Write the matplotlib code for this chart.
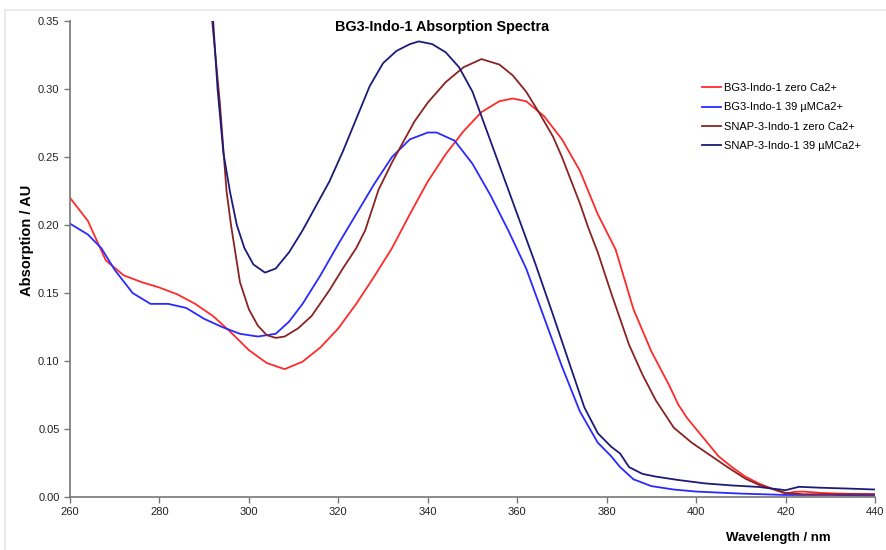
import matplotlib
matplotlib.use('Agg')
import matplotlib.pyplot as plt
from matplotlib.patches import Rectangle

# BG3-Indo-1 zero Ca2+
wl_bg3_zero = [260, 264, 268, 272, 276, 280, 284, 288, 292, 296, 300, 304, 308, 312, 316,
               320, 324, 328, 332, 336, 340, 344, 348, 352, 356, 359, 362, 366, 370, 374,
               378, 382, 386, 390, 394, 396, 398, 400, 402, 405, 408, 411, 414, 417, 420,
               422, 424, 428, 432, 436, 440]
ab_bg3_zero = [0.220, 0.203, 0.174, 0.163, 0.158, 0.154, 0.149, 0.142, 0.133, 0.121, 0.108,
               0.0985, 0.094, 0.0995, 0.110, 0.124, 0.142, 0.162, 0.183, 0.208, 0.232, 0.252,
               0.269, 0.283, 0.291, 0.293, 0.291, 0.280, 0.263, 0.240, 0.208, 0.182, 0.138,
               0.107, 0.082, 0.068, 0.058, 0.050, 0.042, 0.030, 0.022, 0.015, 0.010, 0.006,
               0.0025, 0.0038, 0.004, 0.003, 0.0025, 0.0022, 0.002]

# BG3-Indo-1 39 uM Ca2+
wl_bg3_ca = [260, 264, 267, 270, 274, 278, 282, 286, 290, 294, 298, 302, 306, 309, 312, 316,
             320, 324, 328, 332, 336, 340, 342, 346, 350, 354, 358, 362, 366, 370, 374, 378,
             381, 383, 386, 390, 395, 400, 410, 420, 430, 440]
ab_bg3_ca = [0.201, 0.193, 0.183, 0.167, 0.150, 0.142, 0.142, 0.139, 0.131, 0.125, 0.120,
             0.118, 0.120, 0.129, 0.142, 0.163, 0.186, 0.208, 0.230, 0.250, 0.263, 0.268,
             0.268, 0.262, 0.245, 0.222, 0.196, 0.168, 0.132, 0.096, 0.063, 0.040, 0.030,
             0.022, 0.013, 0.008, 0.0055, 0.004, 0.0025, 0.0015, 0.0015, 0.001]

# SNAP-3-Indo-1 zero Ca2+
wl_snap_zero = [291.8, 293.5, 295, 296, 298, 300, 302, 304, 306, 308, 311, 314, 318, 321, 324,
                326, 329, 332, 334, 337, 340, 344, 348, 352, 356, 359, 362, 365, 368, 370,
                374, 376, 378, 381, 385, 388, 391, 395, 399, 403, 407, 411, 414, 417, 420,
                424, 430, 440]
ab_snap_zero = [0.350, 0.290, 0.225, 0.200, 0.158, 0.138, 0.126, 0.119, 0.117, 0.118, 0.124,
                0.133, 0.152, 0.168, 0.183, 0.196, 0.226, 0.246, 0.258, 0.276, 0.290, 0.305,
                0.316, 0.322, 0.318, 0.310, 0.298, 0.282, 0.265, 0.250, 0.216, 0.197, 0.180,
                0.150, 0.112, 0.090, 0.071, 0.051, 0.040, 0.031, 0.022, 0.0135, 0.009, 0.006,
                0.003, 0.002, 0.002, 0.002]

# SNAP-3-Indo-1 39 uM Ca2+
wl_snap_ca = [292.0, 293.0, 294.3, 295.8, 297.3, 299, 301, 303.6, 306, 309, 312, 315, 318, 321,
              324, 327, 330, 333, 336, 338, 341, 344, 347, 350, 352, 356, 360, 364, 368, 372,
              375, 378, 381, 383, 385, 388, 391, 396, 402, 408, 414, 420, 423, 428, 434, 440]
ab_snap_ca = [0.350, 0.300, 0.253, 0.224, 0.200, 0.183, 0.171, 0.165, 0.168, 0.180, 0.196,
              0.214, 0.232, 0.254, 0.278, 0.302, 0.319, 0.328, 0.333, 0.335, 0.333, 0.327,
              0.316, 0.298, 0.280, 0.244, 0.208, 0.172, 0.134, 0.095, 0.066, 0.047, 0.037,
              0.032, 0.022, 0.017, 0.015, 0.0125, 0.010, 0.0085, 0.0074, 0.005, 0.0075,
              0.0068, 0.0062, 0.0055]

labels = ['BG3-Indo-1 zero Ca2+', 'BG3-Indo-1 39 \u00b5MCa2+',
          'SNAP-3-Indo-1 zero Ca2+', 'SNAP-3-Indo-1 39 \u00b5MCa2+']
colors = ['#ff2a2a', '#2a2aff', '#8a2323', '#1c1c78']

x_ticks = [260, 280, 300, 320, 340, 360, 380, 400, 420, 440]
y_ticks = [0.00, 0.05, 0.10, 0.15, 0.20, 0.25, 0.30, 0.35]

plt.rcParams['font.family'] = ['Liberation Sans', 'DejaVu Sans']

fig = plt.figure(figsize=(8.87, 5.5), dpi=100)
fig.patches.append(Rectangle((5/887, -0.01), 1.0, 1 - 10/550 + 0.01, transform=fig.transFigure,
                             fill=False, edgecolor='#e6e6e6', linewidth=1.2))
ax = fig.add_axes([70/887, 53/550, 805/887, 476/550])

series = [(wl_bg3_zero, ab_bg3_zero), (wl_bg3_ca, ab_bg3_ca),
          (wl_snap_zero, ab_snap_zero), (wl_snap_ca, ab_snap_ca)]
for (x, y), lab, c in zip(series, labels, colors):
    ax.plot(x, y, color=c, linewidth=1.3, label=lab)

ax.set_xlim(260, 440)
ax.set_ylim(0, 0.35)
ax.set_xticks(x_ticks)
ax.set_yticks(y_ticks)
ax.set_yticklabels(['%.2f' % v for v in y_ticks])
ax.tick_params(axis='both', labelsize=8, color='#777777', length=4, width=1, labelcolor='#222222')
for s in ['top', 'right']:
    ax.spines[s].set_visible(False)
for s in ['left', 'bottom']:
    ax.spines[s].set_color('#777777')
    ax.spines[s].set_linewidth(1.2)

fig.text(442/887, 1 - 27/550, 'BG3-Indo-1 Absorption Spectra', ha='center', va='center',
         fontsize=10.4, fontweight='bold')
fig.text(27/887, 1 - 240/550, 'Absorption / AU', rotation=90, ha='center', va='center',
         fontsize=10.5, fontweight='bold')
fig.text(778/887, 1 - 538/550, 'Wavelength / nm', ha='center', va='center',
         fontsize=9.5, fontweight='bold')

ax.legend(loc='upper left', bbox_to_anchor=(622/805, 1 - 52/476), frameon=False,
          fontsize=8, handlelength=1.7, handletextpad=0.3, labelspacing=0.85)

fig.savefig('out.png', dpi=100)
